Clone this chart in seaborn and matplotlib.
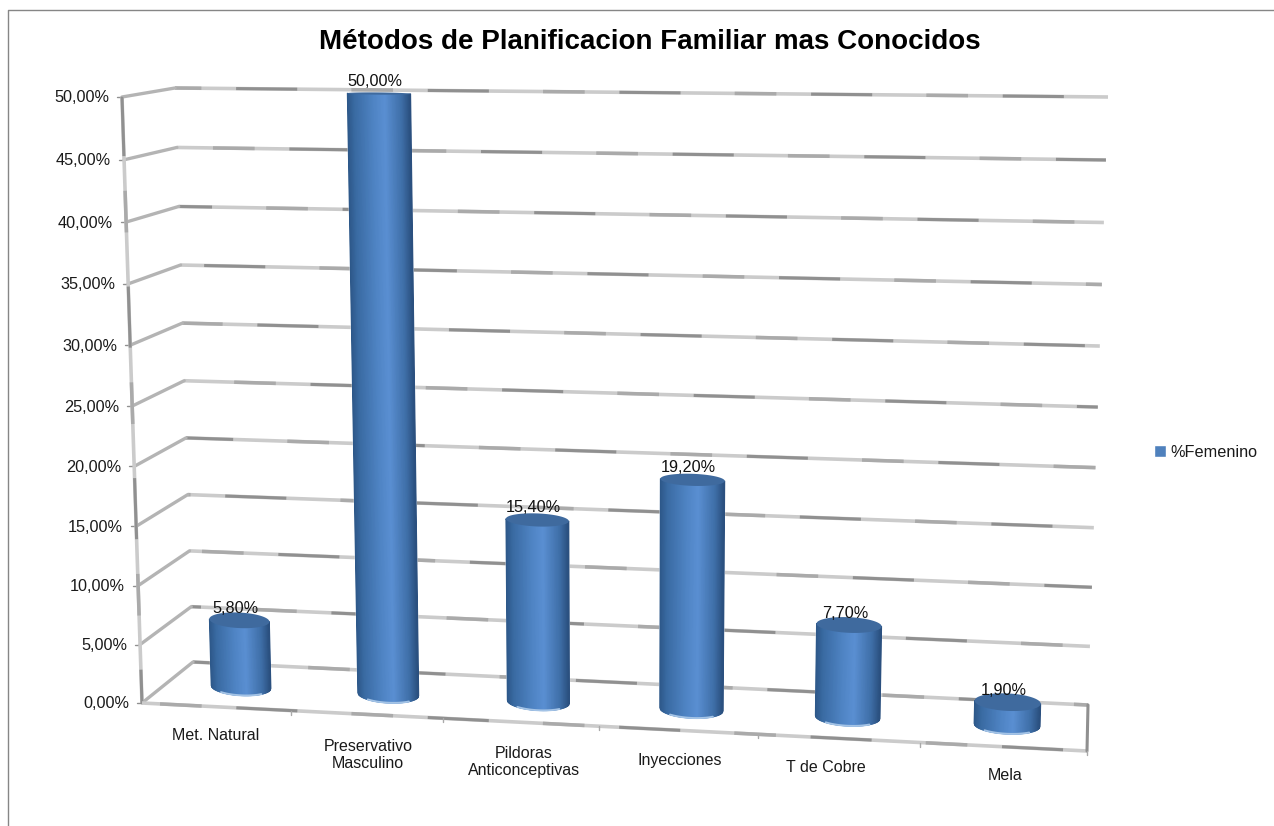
import numpy as np
import matplotlib
matplotlib.use("Agg")
import matplotlib.pyplot as plt
import seaborn as sns
from matplotlib.collections import PolyCollection
from matplotlib.colors import LinearSegmentedColormap
from matplotlib.lines import Line2D
from matplotlib.transforms import Affine2D, Transform

# Chart data
categories = ["Met. Natural", "Preservativo\nMasculino", "Pildoras\nAnticonceptivas",
              "Inyecciones", "T de Cobre", "Mela"]
values = [5.8, 50.0, 15.4, 19.2, 7.7, 1.9]
y_ticks = [0, 5, 10, 15, 20, 25, 30, 35, 40, 45, 50]
series_name = "%Femenino"
chart_title = "Métodos de Planificacion Familiar mas Conocidos"

WIDTH, HEIGHT = 1274, 826
Y_MAX = 50.0
BLUE = "#4f81bd"
DARK_GRID = "#909090"
MID_GRID = "#aaaaaa"
LIGHT_GRID = "#cbcbcb"

# Corners of the 3D box on the canvas (pixels, y downwards)
FRONT_LEFT_LOW = np.array([142.0, 703.0])
FRONT_LEFT_HIGH = np.array([122.0, 97.0])
BACK_LEFT_LOW = np.array([193.0, 662.0])
BACK_LEFT_HIGH = np.array([175.0, 88.0])
BACK_RIGHT_LOW = np.array([1088.0, 705.0])
BACK_RIGHT_HIGH = np.array([1108.0, 97.0])
FRONT_RIGHT_LOW = np.array([1087.0, 751.0])

# Where the plane through the cylinder axes lands on the canvas
BAR_PLANE_SRC = [(0, 0), (5, 0), (0, Y_MAX), (5, Y_MAX)]
BAR_PLANE_DST = [(241, 687), (1007, 725), (226, 92), (1023, 100)]


class PlaneProjection(Transform):
    """Perspective mapping of one plane given four point correspondences."""
    input_dims = 2
    output_dims = 2
    is_separable = False
    has_inverse = False

    def __init__(self, src, dst):
        super().__init__()
        rows, rhs = [], []
        for (x, y), (u, v) in zip(src, dst):
            rows.append([x, y, 1, 0, 0, 0, -u * x, -u * y])
            rows.append([0, 0, 0, x, y, 1, -v * x, -v * y])
            rhs += [u, v]
        h = np.linalg.solve(np.array(rows, float), np.array(rhs, float))
        self.matrix = np.append(h, 1.0).reshape(3, 3)

    def transform_non_affine(self, xy):
        xy = np.asarray(xy, float)
        pts = np.column_stack([xy, np.ones(len(xy))]) @ self.matrix.T
        return pts[:, :2] / pts[:, 2:3]


def wall_point(low, high, value):
    """Point at a given value along a vertical box edge, with foreshortening."""
    t = value / Y_MAX
    return low + (high - low) * t * (1 + 0.04 * (t - 1))


def rough_line(ax, pts, to_px, phase=0.0):
    """Office-style 3D rule: light base stroke with darker stretches on top."""
    xs, ys = np.array(pts).T
    base = dict(transform=to_px, solid_capstyle="butt", dash_capstyle="butt", zorder=1)
    ax.plot(xs, ys, color=LIGHT_GRID, lw=2.6, **base)
    ax.plot(xs, ys, color=MID_GRID, lw=2.5, linestyle=(phase + 55, (30, 108)), **base)
    ax.plot(xs, ys, color=DARK_GRID, lw=2.2, linestyle=(phase, (44, 94)), **base)


sns.set_style("white")
plt.rcParams["font.family"] = ["Liberation Sans", "DejaVu Sans"]
plt.rcParams["lines.scale_dashes"] = False

fig = plt.figure(figsize=(WIDTH / 100, HEIGHT / 100), dpi=100)
ax = fig.add_axes([0, 0, 1, 1])

sns.barplot(x=categories, y=values, ax=ax, color=BLUE, width=0.41, saturation=1,
            label=series_name, zorder=2)
ax.set_xlim(-0.5, 5.5)
ax.set_ylim(0, Y_MAX)
ax.set_autoscale_on(False)
ax.axis("off")

# Canvas pixels to display, and bar-plane data to display
to_px = Affine2D().scale(1, -1).translate(0, HEIGHT)
plane = PlaneProjection(BAR_PLANE_SRC, BAR_PLANE_DST)
bar_tf = plane + to_px

# Gridlines across the side wall and back wall
for k, tick in enumerate(y_ticks):
    front = wall_point(FRONT_LEFT_LOW, FRONT_LEFT_HIGH, tick)
    back_l = wall_point(BACK_LEFT_LOW, BACK_LEFT_HIGH, tick)
    back_r = wall_point(BACK_RIGHT_LOW, BACK_RIGHT_HIGH, tick)
    rough_line(ax, [back_l, back_r], to_px, phase=(k * 37) % 138)
    ax.plot(*np.array([front, back_l]).T, color="#b4b4b4", lw=2.4, transform=to_px, zorder=1)
    ax.plot([front[0] - 5, front[0]], [front[1], front[1]], color=DARK_GRID, lw=1,
            transform=to_px, zorder=1)
    ax.text(front[0] - 13, front[1] + 1, f"{tick:.2f}".replace(".", ",") + "%", ha="right",
            va="center", fontsize=11.7, color="#1a1a1a", transform=to_px)

# Box edges: left upright, floor front and floor right
rough_line(ax, [FRONT_LEFT_LOW, FRONT_LEFT_HIGH], to_px, phase=20)
rough_line(ax, [FRONT_LEFT_LOW, FRONT_RIGHT_LOW], to_px, phase=70)
ax.plot(*np.array([BACK_RIGHT_LOW, FRONT_RIGHT_LOW]).T, color=DARK_GRID, lw=2.2,
        transform=to_px, zorder=1)

# Tick marks under the floor front edge between categories
span = FRONT_RIGHT_LOW - FRONT_LEFT_LOW
for k in range(1, len(categories) + 1):
    t = k / len(categories)
    t = t * (1 - 0.065) / (1 - 0.065 * t)
    p = FRONT_LEFT_LOW + span * t
    ax.plot([p[0], p[0]], [p[1], p[1] + 4], color=MID_GRID, lw=1, transform=to_px, zorder=1)

# Cylinders built over the seaborn bars, shaded with vertical strips
side_cmap = LinearSegmentedColormap.from_list(
    "cyl", [(0, "#2d5788"), (0.12, "#3a6ba3"), (0.42, "#4f84c4"), (0.6, "#5a8fd2"),
            (0.86, "#3f6fa8"), (1, "#2a4f7e")])
top_color = "#3f6a9e"


def ellipse_depth(value):
    return 0.75 - 0.66 * value / Y_MAX


bars = list(ax.patches)
for patch, value in zip(bars, values):
    patch.set_transform(bar_tf)
    cx = patch.get_x() + patch.get_width() / 2
    half = patch.get_width() / 2
    top = patch.get_height()
    us = np.linspace(-1, 1, 81)
    curve = np.sqrt(np.clip(1 - us ** 2, 0, 1))
    low = -ellipse_depth(0) * curve
    high = top - ellipse_depth(top) * curve
    xs = cx + us * half
    verts = [[(xs[j], low[j]), (xs[j + 1], low[j + 1]), (xs[j + 1], high[j + 1]), (xs[j], high[j])]
             for j in range(len(us) - 1)]
    shades = side_cmap((us[:-1] + us[1:]) / 4 + 0.5)
    ax.add_collection(PolyCollection(verts, facecolors=shades, edgecolors=shades, linewidths=0.7,
                                     transform=bar_tf, zorder=3), autolim=False)
    angle = np.linspace(0, 2 * np.pi, 90)
    ax.fill(cx + half * np.cos(angle), top + ellipse_depth(top) * np.sin(angle), color=top_color,
            lw=0, transform=bar_tf, zorder=4)
    rim = np.abs(us) < 0.7
    ax.plot(xs[rim], low[rim] + 0.02, color="#a3c3e6", lw=1.4, transform=bar_tf, zorder=4)
    ax.annotate(f"{value:.2f}".replace(".", ",") + "%", xy=(cx, top), xycoords=bar_tf,
                xytext=(-4, 12), textcoords="offset pixels", ha="center", va="center",
                fontsize=11.7, color="#111111", zorder=6)

# Category captions below the floor
caption_px = [(216, 736), (368, 755), (524, 762), (680, 761), (826, 768), (1005, 775)]
for label, (px, py) in zip(categories, caption_px):
    ax.text(px, py, label, ha="center", va="center", fontsize=11.5, color="#1a1a1a",
            linespacing=1.1, transform=to_px)

ax.text(650, 42, chart_title, ha="center", va="center", fontsize=20, fontweight="bold",
        color="black", transform=to_px)

ax.legend(loc="center left", bbox_to_anchor=(1139.5 / WIDTH, 1 - 452 / HEIGHT), frameon=False,
          fontsize=11.7, handlelength=0.7, handleheight=0.7, handletextpad=0.3,
          labelcolor="#1a1a1a")

# Chart area outline (open to the right and bottom of the canvas)
fig.add_artist(Line2D([8 / WIDTH, 8 / WIDTH, 1], [0, 1 - 10 / HEIGHT, 1 - 10 / HEIGHT],
                      color="#868686", lw=1.0))

fig.savefig("out.png", dpi=100)
